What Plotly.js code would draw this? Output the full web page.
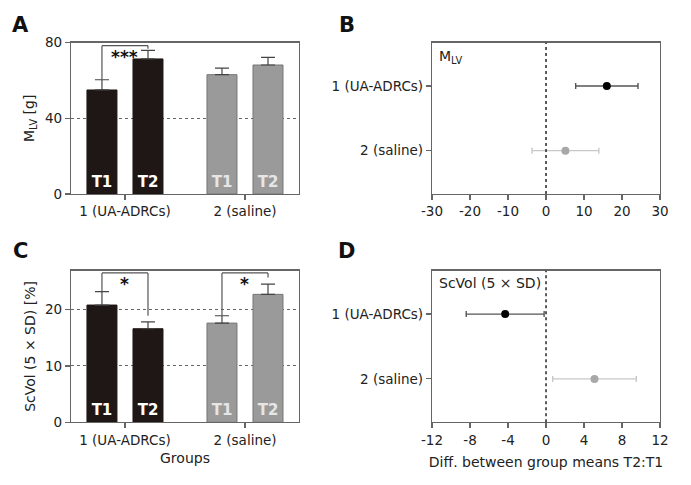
<!DOCTYPE html>
<html>
<head>
<meta charset="utf-8">
<script src="https://cdn.plot.ly/plotly-3.0.1.min.js"></script>
<style>
  html, body { margin: 0; padding: 0; background: #fff; }
  #chart { width: 691px; height: 485px; }
</style>
</head>
<body>
<div id="chart"></div>
<script>
// data
var groups = ['1 (UA-ADRCs)', '2 (saline)'];
var mlvT1 = [55, 63.1];
var mlvT1Err = [5.4, 3.5];
var mlvT2 = [71.4, 68.2];
var mlvT2Err = [4.5, 4];
var scvT1 = [20.8, 17.6];
var scvT1Err = [2.4, 1.3];
var scvT2 = [16.6, 22.7];
var scvT2Err = [1.2, 1.8];
var mlvDiff = [16, 5.1];
var mlvDiffCI = [8.2, 8.8];
var scvDiff = [-4.3, 5.1];
var scvDiffCI = [4.1, 4.4];

// tick labels (the figure uses plain hyphens)
var mlvDiffTicks = [-30, -20, -10, 0, 10, 20, 30];
var mlvDiffText = ['-30', '-20', '-10', '0', '10', '20', '30'];
var scvDiffTicks = [-12, -8, -4, 0, 4, 8, 12];
var scvDiffText = ['-12', '-8', '-4', '0', '4', '8', '12'];

var F = '"DejaVu Sans", sans-serif';
var dark = '#1f1715';
var grey = '#9a9a9a';
var bargap = 0.233;
var off = (1 - bargap) / 4;   // centre of T1 / T2 bar relative to the category

function barTrace(vals, errs, name, xa, ya) {
    return {
        type: 'bar', x: groups, y: vals, xaxis: xa, yaxis: ya,
        text: [name, name], texttemplate: '%{text}',
        textposition: 'inside', insidetextanchor: 'start', textangle: 0,
        textfont: {family: F, size: 15, weight: 700, color: ['#ffffff', '#e6e6e6']},
        marker: {color: [dark, grey], line: {color: [dark, '#767676'], width: 1}},
        error_y: {type: 'data', symmetric: false, array: errs, arrayminus: [0, 0],
                  color: '#444', thickness: 1.2, width: 7},
        hoverinfo: 'none', showlegend: false
    };
}

function ciTrace(i, diff, ci, xa, ya, col, errCol) {
    return {
        type: 'scatter', mode: 'markers', x: [diff[i]], y: [groups[i]],
        xaxis: xa, yaxis: ya,
        marker: {color: col, size: 8},
        error_x: {type: 'data', array: [ci[i]], color: errCol, thickness: 1.4, width: 3},
        hoverinfo: 'none', showlegend: false
    };
}

var data = [
    barTrace(mlvT1, mlvT1Err, 'T1', 'x', 'y'),
    barTrace(mlvT2, mlvT2Err, 'T2', 'x', 'y'),
    barTrace(scvT1, scvT1Err, 'T1', 'x3', 'y3'),
    barTrace(scvT2, scvT2Err, 'T2', 'x3', 'y3'),
    ciTrace(0, mlvDiff, mlvDiffCI, 'x2', 'y2', '#000', '#555'),
    ciTrace(1, mlvDiff, mlvDiffCI, 'x2', 'y2', '#a8a8a8', '#c8c8c8'),
    ciTrace(0, scvDiff, scvDiffCI, 'x4', 'y4', '#000', '#555'),
    ciTrace(1, scvDiff, scvDiffCI, 'x4', 'y4', '#a8a8a8', '#c8c8c8')
];

// significance brackets
var shapes = [];
var annotations = [];
function bracket(i, t1, e1, t2, e2, top, gap, xr, yr, label) {
    var c1 = t1[i] + e1[i], c2 = t2[i] + e2[i];
    var ln = {color: '#555', width: 1.2};
    shapes.push({type: 'line', xref: xr, yref: yr, x0: i - off, x1: i - off, y0: c1, y1: top, line: ln});
    shapes.push({type: 'line', xref: xr, yref: yr, x0: i - off, x1: i + off, y0: top, y1: top, line: ln});
    shapes.push({type: 'line', xref: xr, yref: yr, x0: i + off, x1: i + off, y0: top, y1: c2 + gap, line: ln});
    annotations.push({xref: xr, yref: yr, x: i, y: top, yanchor: 'top', yshift: 1, showarrow: false,
        text: label, font: {family: F, size: 17, weight: 700, color: '#111'}});
}
bracket(0, mlvT1, mlvT1Err, mlvT2, mlvT2Err, 78.4, 0.9, 'x', 'y', '***');
bracket(0, scvT1, scvT1Err, scvT2, scvT2Err, 26.5, 1.1, 'x3', 'y3', '*');
bracket(1, scvT1, scvT1Err, scvT2, scvT2Err, 26.5, 1.2, 'x3', 'y3', '*');

// dotted zero lines
['2', '4'].forEach(function (k) {
    shapes.push({type: 'line', xref: 'x' + k, yref: 'y' + k + ' domain', x0: 0, x1: 0, y0: 0, y1: 1,
        line: {color: '#333', width: 1.6, dash: 'dot'}});
});

function letter(t, x, y) {
    annotations.push({xref: 'paper', yref: 'paper', x: x, y: y, xanchor: 'center', yanchor: 'middle',
        showarrow: false, text: t, font: {family: F, size: 21, weight: 700, color: '#111'}});
}
letter('A', 0.029, 0.948);
letter('B', 0.5015, 0.949);
letter('C', 0.029, 0.482);
letter('D', 0.5015, 0.482);
annotations.push({xref: 'paper', yref: 'paper', x: 0.632, y: 0.8825, xanchor: 'left', yanchor: 'middle',
    showarrow: false, text: 'M<sub>LV</sub>', font: {family: F, size: 14, color: '#222'}});
annotations.push({xref: 'paper', yref: 'paper', x: 0.632, y: 0.416, xanchor: 'left', yanchor: 'middle',
    showarrow: false, text: 'ScVol (5 × SD)', font: {family: F, size: 14, color: '#222'}});

function ax(extra) {
    var a = {
        showline: true, linecolor: '#666', linewidth: 1.2, mirror: true,
        ticks: 'outside', ticklen: 5, tickcolor: '#666', tickwidth: 1.2,
        tickfont: {family: F, size: 13.5, color: '#222'},
        zeroline: false, showgrid: false, fixedrange: true
    };
    for (var k in extra) a[k] = extra[k];
    return a;
}
var titleFont = {family: F, size: 14, color: '#222'};
var leftDom = [0.1027, 0.4327], rightDom = [0.6252, 0.9552];
var topDom = [0.6, 0.912], botDom = [0.1293, 0.4419];
var catRange = [1.67, -0.67];

var layout = {
    width: 691, height: 485,
    margin: {l: 0, r: 0, t: 0, b: 0},
    paper_bgcolor: '#fff', plot_bgcolor: '#fff',
    barmode: 'group', bargap: bargap, bargroupgap: 0.348,
    xaxis: ax({domain: leftDom, anchor: 'y', type: 'category', range: [-0.45, 1.45]}),
    yaxis: ax({domain: topDom, anchor: 'x', range: [0, 80], tickvals: [0, 40, 80],
        showgrid: true, griddash: 'dot', gridcolor: '#666', gridwidth: 1,
        title: {text: 'M<sub>LV</sub> [g]', font: titleFont, standoff: 7}}),
    xaxis2: ax({domain: rightDom, anchor: 'y2', range: [-30, 30],
        tickvals: mlvDiffTicks, ticktext: mlvDiffText}),
    yaxis2: ax({domain: topDom, anchor: 'x2', type: 'category', range: catRange}),
    xaxis3: ax({domain: leftDom, anchor: 'y3', type: 'category', range: [-0.45, 1.45],
        title: {text: 'Groups', font: titleFont, standoff: 6}}),
    yaxis3: ax({domain: botDom, anchor: 'x3', range: [0, 26.9], tickvals: [0, 10, 20],
        showgrid: true, griddash: 'dot', gridcolor: '#666', gridwidth: 1,
        title: {text: 'ScVol (5 × SD) [%]', font: titleFont, standoff: 6}}),
    xaxis4: ax({domain: rightDom, anchor: 'y4', range: [-12, 12],
        tickvals: scvDiffTicks, ticktext: scvDiffText,
        title: {text: 'Diff. between group means T2:T1', font: titleFont, standoff: 10}}),
    yaxis4: ax({domain: botDom, anchor: 'x4', type: 'category', range: catRange}),
    shapes: shapes,
    annotations: annotations
};

Plotly.newPlot('chart', data, layout, {displayModeBar: false, staticPlot: true});
</script>
</body>
</html>
